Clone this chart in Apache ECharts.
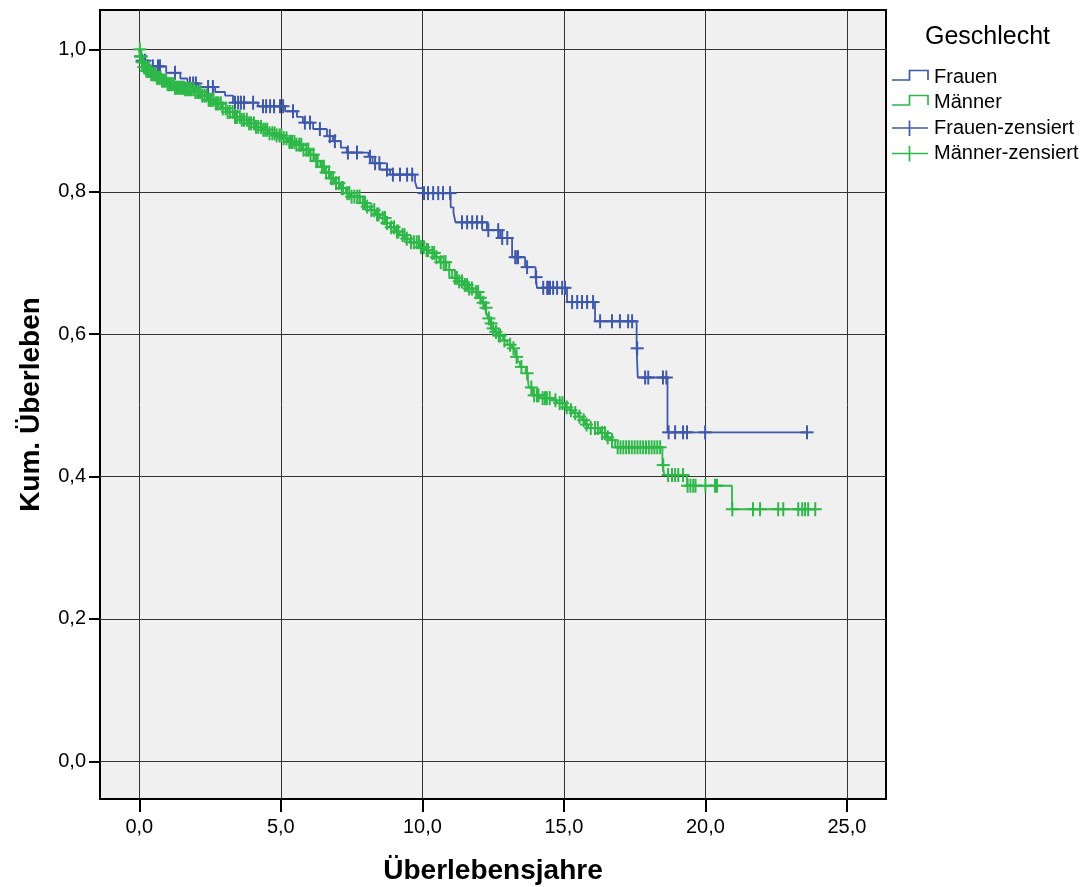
<!DOCTYPE html>
<html>
<head>
<meta charset="utf-8">
<script src="https://cdn.jsdelivr.net/npm/echarts@6/dist/echarts.min.js"></script>
<style>
  html, body { margin: 0; padding: 0; background: #fff; }
  #chart { width: 1089px; height: 887px; }
</style>
</head>
<body>
<div id="chart"></div>
<script>
// Axis ticks and their labels (German decimal comma)
const xTicks = [0, 5, 10, 15, 20, 25];
const xTickLabels = ['0,0', '5,0', '10,0', '15,0', '20,0', '25,0'];
const yTicks = [0, 0.2, 0.4, 0.6, 0.8, 1.0];
const yTickLabels = ['0,0', '0,2', '0,4', '0,6', '0,8', '1,0'];

const groupNames = ['Frauen', 'Männer', 'Frauen-zensiert', 'Männer-zensiert'];

// Frauen: event times (years) and cumulative survival after each event
const frauenTimes = [0, 0.03, 0.30, 0.95, 1.45, 1.70, 2.07, 2.68, 3.03, 3.31,
  4.19, 5.15, 5.57, 5.78, 6.14, 6.63, 6.84, 7.12, 7.33, 8.10,
  8.24, 8.50, 8.86, 9.74, 9.81, 10.03, 11.00, 11.10, 11.17, 12.28,
  12.75, 13.17, 13.63, 14.00, 14.05, 15.11, 16.10, 17.57, 17.61, 18.66];
const frauenSurv = [1.000, 0.984, 0.976, 0.967, 0.959, 0.952, 0.947, 0.940, 0.935, 0.925,
  0.920, 0.913, 0.905, 0.897, 0.888, 0.878, 0.871, 0.862, 0.855, 0.849,
  0.840, 0.831, 0.824, 0.814, 0.805, 0.798, 0.778, 0.770, 0.757, 0.746,
  0.735, 0.708, 0.694, 0.680, 0.665, 0.645, 0.618, 0.580, 0.539, 0.462];
const frauenEnd = 23.59;
// Frauen: censored observation times
const frauenCensored = [0.10, 0.20, 0.48, 0.66, 0.73, 1.26, 1.79, 1.90, 2.00, 2.43,
  2.60, 3.38, 3.49, 3.59, 3.70, 4.02, 4.37, 4.48, 4.62, 4.76,
  4.97, 5.08, 5.43, 5.85, 6.03, 6.38, 6.73, 6.91, 7.37, 7.69,
  8.15, 8.33, 8.48, 8.75, 8.96, 9.21, 9.46, 9.64, 10.06, 10.20,
  10.38, 10.56, 10.73, 10.98, 11.40, 11.58, 11.76, 11.93, 12.11, 12.33,
  12.68, 12.82, 13.00, 13.28, 13.35, 13.38, 13.70, 14.02, 14.27, 14.41,
  14.44, 14.51, 14.62, 14.76, 14.94, 15.04, 15.29, 15.47, 15.64, 15.82,
  16.03, 16.28, 16.70, 16.98, 17.27, 17.41, 17.59, 17.87, 17.98, 18.50,
  18.62, 18.70, 18.93, 19.21, 19.35, 19.99, 23.59];

// Männer: event times (years) and cumulative survival after each event
const maennerTimes = [0, 0.03, 0.08, 0.15, 0.25, 0.40, 0.60, 0.80, 1.00, 1.25,
  1.60, 1.95, 2.20, 2.40, 2.65, 2.90, 3.10, 3.35, 3.60, 3.85,
  4.10, 4.35, 4.55, 4.80, 5.05, 5.25, 5.50, 5.75, 6.00, 6.20,
  6.40, 6.55, 6.75, 6.90, 7.10, 7.30, 7.45, 7.80, 8.00, 8.15,
  8.35, 8.50, 8.70, 8.85, 9.05, 9.20, 9.40, 9.55, 9.90, 10.10,
  10.25, 10.45, 10.60, 10.85, 11.05, 11.25, 11.45, 11.60, 11.80, 12.00,
  12.10, 12.20, 12.27, 12.32, 12.40, 12.46, 12.55, 12.64, 12.85, 13.00,
  13.17, 13.28, 13.37, 13.45, 13.65, 13.73, 13.76, 13.90, 14.15, 14.60,
  14.76, 15.04, 15.20, 15.32, 15.50, 15.64, 15.75, 15.85, 16.28, 16.50,
  16.63, 16.81, 18.48, 18.55, 19.35, 20.94];
const maennerSurv = [1.000, 0.990, 0.982, 0.975, 0.970, 0.965, 0.960, 0.956, 0.951, 0.946,
  0.944, 0.940, 0.935, 0.929, 0.924, 0.917, 0.912, 0.905, 0.901, 0.896,
  0.891, 0.887, 0.882, 0.879, 0.875, 0.870, 0.866, 0.859, 0.852, 0.843,
  0.835, 0.827, 0.819, 0.812, 0.805, 0.798, 0.793, 0.784, 0.779, 0.774,
  0.768, 0.763, 0.756, 0.750, 0.744, 0.739, 0.734, 0.729, 0.722, 0.718,
  0.714, 0.708, 0.701, 0.690, 0.679, 0.674, 0.669, 0.664, 0.659, 0.651,
  0.644, 0.637, 0.629, 0.622, 0.615, 0.608, 0.603, 0.598, 0.591, 0.585,
  0.580, 0.568, 0.561, 0.554, 0.545, 0.535, 0.525, 0.514, 0.510, 0.507,
  0.503, 0.497, 0.493, 0.489, 0.484, 0.479, 0.473, 0.468, 0.461, 0.455,
  0.451, 0.441, 0.416, 0.402, 0.387, 0.354];
const maennerEnd = 23.88;
// Männer: censored observation times
const maennerCensored = [0.02, 0.04, 0.05, 0.07, 0.10, 0.12, 0.14, 0.16, 0.18, 0.20,
  0.23, 0.25, 0.28, 0.30, 0.33, 0.36, 0.39, 0.42, 0.46, 0.50,
  0.54, 0.58, 0.62, 0.66, 0.70, 0.75, 0.80, 0.85, 0.90, 0.95,
  1.00, 1.05, 1.10, 1.15, 1.22, 1.26, 1.30, 1.35, 1.40, 1.45,
  1.50, 1.55, 1.58, 1.62, 1.66, 1.70, 1.75, 1.80, 1.85, 1.92,
  1.98, 2.05, 2.10, 2.15, 2.22, 2.30, 2.37, 2.45, 2.50, 2.55,
  2.62, 2.70, 2.75, 2.80, 2.88, 2.95, 3.05, 3.12, 3.20, 3.30,
  3.38, 3.45, 3.55, 3.62, 3.70, 3.80, 3.88, 3.95, 4.05, 4.12,
  4.20, 4.30, 4.38, 4.45, 4.52, 4.60, 4.70, 4.78, 4.85, 4.95,
  5.02, 5.10, 5.20, 5.30, 5.36, 5.40, 5.48, 5.55, 5.65, 5.72,
  5.80, 5.90, 5.97, 6.05, 6.15, 6.25, 6.30, 6.45, 6.52, 6.60,
  6.70, 6.78, 6.85, 6.95, 7.05, 7.15, 7.20, 7.35, 7.42, 7.50,
  7.60, 7.70, 7.78, 7.90, 7.97, 8.05, 8.20, 8.30, 8.40, 8.45,
  8.60, 8.68, 8.75, 8.90, 9.00, 9.10, 9.15, 9.30, 9.37, 9.45,
  9.60, 9.70, 9.80, 9.88, 9.95, 10.05, 10.15, 10.20, 10.35, 10.42,
  10.50, 10.65, 10.75, 10.82, 10.95, 11.15, 11.22, 11.30, 11.40, 11.50,
  11.58, 11.65, 11.75, 11.90, 11.97, 12.05, 12.15, 12.25, 12.35, 12.43,
  12.50, 12.60, 12.70, 12.75, 12.90, 13.10, 13.22, 13.33, 13.50, 13.70,
  13.85, 13.95, 14.05, 14.10, 14.25, 14.33, 14.40, 14.50, 14.70, 14.85,
  14.95, 15.10, 15.25, 15.40, 15.55, 15.70, 15.80, 15.95, 16.10, 16.20,
  16.35, 16.45, 16.55, 16.70, 16.90, 17.00, 17.10, 17.20, 17.30, 17.40,
  17.50, 17.60, 17.70, 17.80, 17.90, 18.00, 18.10, 18.20, 18.30, 18.40,
  18.51, 18.68, 18.82, 18.93, 19.04, 19.21, 19.37, 19.47, 19.57, 19.65,
  20.00, 20.34, 20.41, 20.95, 21.68, 21.93, 22.57, 22.75, 23.28, 23.42,
  23.52, 23.63, 23.88];

const BLUE = '#3E58AC';
const GREEN = '#2EB848';
const FONT = '"Liberation Sans", Arial, sans-serif';

// Step curve points: each event, then a final point at the last follow-up time
function stepData(times, surv, end) {
  const pts = times.map((t, i) => [t, surv[i]]);
  pts.push([end, surv[surv.length - 1]]);
  return pts;
}
// Survival level of a curve at time t (censor marks sit on the curve)
function survAt(times, surv, t) {
  let s = surv[0];
  for (let i = 0; i < times.length; i++) if (times[i] <= t) s = surv[i];
  return s;
}
function censorData(times, surv, cens) {
  return cens.map(t => [t, survAt(times, surv, t)]);
}
function crossRenderer(color) {
  return function (params, api) {
    const p = api.coord([api.value(0), api.value(1)]);
    const st = { stroke: color, lineWidth: 2 };
    return {
      type: 'group',
      children: [
        { type: 'line', shape: { x1: p[0] - 6.5, y1: p[1], x2: p[0] + 6.5, y2: p[1] }, style: st },
        { type: 'line', shape: { x1: p[0], y1: p[1] - 7, x2: p[0], y2: p[1] + 7 }, style: st }
      ]
    };
  };
}
function labelFor(ticks, labels) {
  return function (v) {
    for (let i = 0; i < ticks.length; i++) if (Math.abs(ticks[i] - v) < 1e-9) return labels[i];
    return '';
  };
}

const chart = echarts.init(document.getElementById('chart'), null, { renderer: 'canvas' });

const legendX = 892, legendTextX = 934;
const rowY = [77.5, 102.5, 128, 153.5];
const rowColor = [BLUE, GREEN, BLUE, GREEN];
const legendGraphics = [
  { type: 'text', x: 925, y: 37, style: { text: 'Geschlecht', font: '25px ' + FONT, fill: '#000', verticalAlign: 'middle', align: 'left' } }
];
groupNames.forEach((name, i) => {
  const y = rowY[i], c = rowColor[i];
  if (i < 2) {
    legendGraphics.push({ type: 'polyline', shape: { points: [[legendX, y + 2.5], [legendX + 17.5, y + 2.5], [legendX + 17.5, y - 7], [legendX + 36, y - 7], [legendX + 36, y + 2.5]] }, style: { stroke: c, lineWidth: 1.7, fill: null } });
  } else {
    legendGraphics.push({ type: 'line', shape: { x1: legendX, y1: y, x2: legendX + 36, y2: y }, style: { stroke: c, lineWidth: 1.7 } });
    legendGraphics.push({ type: 'line', shape: { x1: legendX + 17.5, y1: y - 7.5, x2: legendX + 17.5, y2: y + 8 }, style: { stroke: c, lineWidth: 1.7 } });
  }
  legendGraphics.push({ type: 'text', x: legendTextX, y: y, style: { text: name, font: '20px ' + FONT, fill: '#000', verticalAlign: 'middle', align: 'left' } });
});

const option = {
  animation: false,
  backgroundColor: '#fff',
  textStyle: { fontFamily: FONT },
  grid: {
    left: 100, top: 10, right: 203, bottom: 88,
    show: true, backgroundColor: '#f0f0f0', borderColor: '#000', borderWidth: 2,
    containLabel: false, outerBoundsMode: 'none'
  },
  xAxis: {
    type: 'value', min: -1.389, max: 26.38,
    axisLine: { show: false, onZero: false },
    axisTick: { show: true, inside: false, customValues: xTicks, length: 13, lineStyle: { color: '#000', width: 2 } },
    axisLabel: { customValues: xTicks, formatter: labelFor(xTicks, xTickLabels), margin: 18, fontSize: 20, color: '#000', fontFamily: FONT },
    splitLine: { show: false },
    name: 'Überlebensjahre', nameLocation: 'middle', nameGap: 58,
    nameTextStyle: { fontSize: 28, fontWeight: 'bold', color: '#000', fontFamily: FONT }
  },
  yAxis: {
    type: 'value', min: -0.053, max: 1.0552,
    axisLine: { show: false, onZero: false },
    axisTick: { show: true, inside: false, customValues: yTicks, length: 11, lineStyle: { color: '#000', width: 2 } },
    axisLabel: { customValues: yTicks, formatter: labelFor(yTicks, yTickLabels), margin: 14, fontSize: 20, color: '#000', fontFamily: FONT },
    splitLine: { show: false },
    name: 'Kum. Überleben', nameLocation: 'middle', nameGap: 55,
    nameTextStyle: { fontSize: 28, fontWeight: 'bold', color: '#000', fontFamily: FONT }
  },
  graphic: legendGraphics,
  series: [
    {
      // vertical grid lines
      type: 'custom', z: 1, silent: true,
      data: xTicks.map(v => [v, 0]),
      renderItem: function (params, api) {
        const cs = params.coordSys;
        const x = Math.round(api.coord([api.value(0), 0])[0]) + 0.5;
        return { type: 'line', shape: { x1: x, y1: cs.y, x2: x, y2: cs.y + cs.height }, style: { stroke: '#333', lineWidth: 1 } };
      }
    },
    {
      // horizontal grid lines
      type: 'custom', z: 1, silent: true,
      data: yTicks.map(v => [0, v]),
      renderItem: function (params, api) {
        const cs = params.coordSys;
        const y = Math.round(api.coord([0, api.value(1)])[1]) + 0.5;
        return { type: 'line', shape: { x1: cs.x, y1: y, x2: cs.x + cs.width, y2: y }, style: { stroke: '#333', lineWidth: 1 } };
      }
    },
    {
      name: groupNames[0], type: 'line', step: 'end', z: 2, symbol: 'none',
      lineStyle: { color: BLUE, width: 1.8 },
      data: stepData(frauenTimes, frauenSurv, frauenEnd)
    },
    {
      name: groupNames[2], type: 'custom', z: 3,
      renderItem: crossRenderer(BLUE),
      data: censorData(frauenTimes, frauenSurv, frauenCensored)
    },
    {
      name: groupNames[1], type: 'line', step: 'end', z: 4, symbol: 'none',
      lineStyle: { color: GREEN, width: 1.8 },
      data: stepData(maennerTimes, maennerSurv, maennerEnd)
    },
    {
      name: groupNames[3], type: 'custom', z: 5,
      renderItem: crossRenderer(GREEN),
      data: censorData(maennerTimes, maennerSurv, maennerCensored)
    }
  ]
};
chart.setOption(option);
</script>
</body>
</html>
